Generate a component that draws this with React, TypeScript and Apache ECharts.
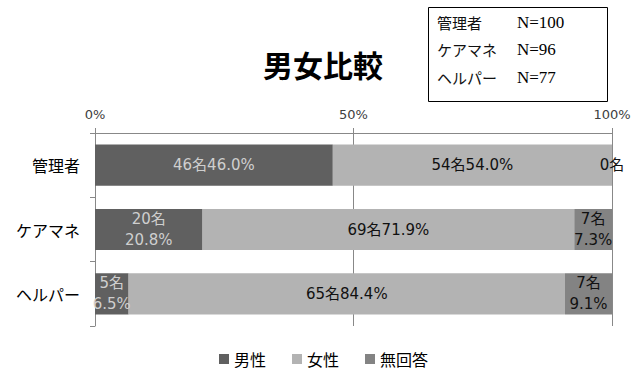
import React, { useEffect, useRef } from "react";
import * as echarts from "echarts";

const categories = ["管理者", "ケアマネ", "ヘルパー"];
const seriesNames = ["男性", "女性", "無回答"];
const malePct = [46.0, 20.8, 6.5];
const femalePct = [54.0, 71.9, 84.4];
const noAnswerPct = [0, 7.3, 9.1];
const maleCount = [46, 20, 5];
const femaleCount = [54, 69, 65];
const noAnswerCount = [0, 7, 7];
const nLabels = ["管理者", "ケアマネ", "ヘルパー"];
const nValues = ["N=100", "N=96", "N=77"];

const colors = ["#606060", "#b3b3b3", "#838383"];
const labelColors = ["#cfcfcf", "#111111", "#111111"];

export default function App() {
  const ref = useRef<HTMLDivElement>(null);
  useEffect(() => {
    if (!ref.current) return;
    const chart = echarts.init(ref.current, null, { renderer: "svg" });
    const pcts = [malePct, femalePct, noAnswerPct];
    const counts = [maleCount, femaleCount, noAnswerCount];
    const font = "'Noto Sans CJK JP', 'Noto Sans', sans-serif";
    const numFont = "'DejaVu Sans', 'Noto Sans CJK JP', sans-serif";
    const series = seriesNames.map((name, si) => ({
      name,
      type: "bar",
      stack: "total",
      barWidth: "64%",
      itemStyle: { color: colors[si] },
      label: {
        show: true,
        position: "inside",
        color: labelColors[si],
        fontSize: 15,
        fontFamily: numFont,
        lineHeight: 21,
        formatter: (p: any) => {
          const c = counts[si][p.dataIndex];
          const v = pcts[si][p.dataIndex];
          if (c === 0) return `${c}名`;
          if (v < 30) return `${c}名\n${v.toFixed(1)}%`;
          return `${c}名${v.toFixed(1)}%`;
        },
      },
      data: pcts[si],
    }));
    const graphics: any[] = [
      {
        type: "rect",
        shape: { x: 428.5, y: 7.5, width: 179, height: 94 },
        style: { fill: "#fff", stroke: "#000", lineWidth: 1 },
      },
    ];
    nLabels.forEach((t, i) => {
      graphics.push({
        type: "text",
        x: 437,
        y: 22 + i * 27.5,
        style: {
          text: t,
          fontSize: 15,
          fontFamily: "'Noto Sans CJK JP', serif",
          fill: "#111",
          verticalAlign: "middle",
        },
      });
      graphics.push({
        type: "text",
        x: 517,
        y: 22 + i * 27.5,
        style: {
          text: nValues[i],
          fontSize: 17,
          fontFamily: "'Liberation Serif', serif",
          fill: "#000",
          verticalAlign: "middle",
        },
      });
    });
    chart.setOption({
      animation: false,
      title: {
        text: "男女比較",
        left: 318,
        textAlign: "center",
        top: 44,
        textStyle: { fontSize: 30, fontWeight: "bold", color: "#000", fontFamily: font },
      },
      legend: {
        data: seriesNames,
        bottom: 8,
        left: 214,
        icon: "rect",
        itemWidth: 10,
        itemHeight: 10,
        itemGap: 26,
        textStyle: { fontSize: 16, color: "#000", fontFamily: font },
      },
      grid: { left: 95, right: 24, top: 133, bottom: 54, containLabel: false },
      xAxis: {
        type: "value",
        position: "top",
        min: 0,
        max: 100,
        interval: 50,
        axisLine: { show: true, lineStyle: { color: "#888", width: 1 } },
        axisTick: { show: true, length: 5, lineStyle: { color: "#888" } },
        splitLine: { show: true, lineStyle: { color: "#888", width: 1 } },
        axisLabel: {
          formatter: "{value}%",
          color: "#404040",
          fontSize: 13,
          fontFamily: numFont,
          margin: 12,
        },
      },
      yAxis: {
        type: "category",
        data: categories,
        inverse: true,
        axisLine: { show: true, lineStyle: { color: "#888", width: 1 } },
        axisTick: { show: true, length: 5, lineStyle: { color: "#888" } },
        axisLabel: { color: "#000", fontSize: 16, fontFamily: font, margin: 15 },
      },
      series,
      graphic: graphics,
    });
    return () => chart.dispose();
  }, []);
  return <div ref={ref} style={{ width: 636, height: 380, position: "absolute", left: 0, top: 0 }} />;
}
